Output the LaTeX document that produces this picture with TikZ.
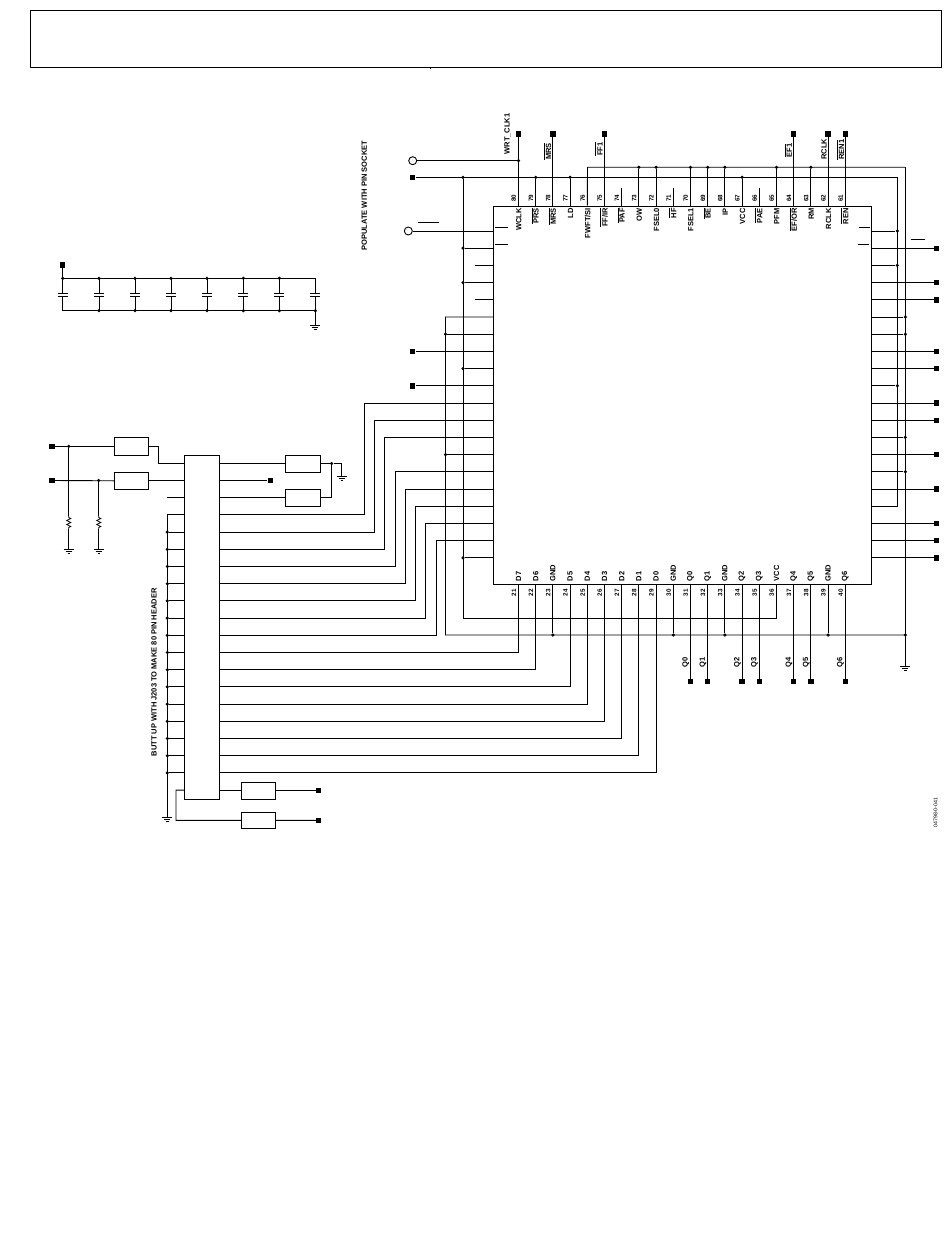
\documentclass[tikz,border=0pt]{standalone}
\usepackage{fontspec}
\setmainfont{Liberation Sans}
\usetikzlibrary{calc}
\newcommand\ovbar[1]{\setbox0=\hbox{#1}\rlap{\smash{\rule[6.6pt]{\wd0}{0.55pt}}}\box0}
\newcommand\lfont{\fontsize{7.5}{8}\selectfont\bfseries}
\newcommand\nfont{\fontsize{6.3}{7}\selectfont\bfseries}
\tikzset{
  wire/.style={line width=0.9pt,black},
  jdot/.style={circle,fill=black,inner sep=0pt,minimum size=3.5pt},
  sqpin/.style={rectangle,fill=black,inner sep=0pt,minimum size=5.4pt},
  ringpin/.style={circle,draw=black,fill=white,line width=0.9pt,inner sep=0pt,minimum size=8pt},
  partbox/.style={rectangle,draw=black,line width=0.9pt,inner sep=0pt,fill=white},
  vlab/.style={rotate=90,inner sep=0pt,font=\lfont},
  vnum/.style={rotate=90,inner sep=0pt,font=\nfont},
  gndsym/.pic={\draw[wire] (-5,0)--(5,0) (-3,2)--(3,2) (-1.2,4)--(1.2,4);},
  resis/.pic={\draw[line width=0.8pt] (0,0)--(0,1.5)--(2,2.5)--(-2,4.5)--(2,6.5)--(-2,8.5)--(2,10.5)--(0,11.5)--(0,13);},
}
\begin{document}
\begin{tikzpicture}[x=1pt,y=-1pt]
\useasboundingbox (0,0) rectangle (950,1260);
\fill[white] (0,0) rectangle (950,1260);

% title frame
\node[rectangle,draw=black,line width=1.2pt,inner sep=0pt,minimum width=911pt,minimum height=57pt,anchor=north west] (frame) at (30,10) {};
\draw[line width=0.5pt] (430,67.5) -- (430,69);

% ---------- main chip ----------
\node[partbox,minimum width=378pt,minimum height=378pt,anchor=north west] (chip) at (493,205.5) {};
\foreach \i in {1,...,20}{
  \pgfmathsetmacro\yy{231+(\i-1)*17.2}
  \coordinate (L\i) at (493,\yy);
  \coordinate (R\i) at (871,\yy);
}
\foreach \n/\s in {80/WCLK,79/\ovbar{PRS},78/\ovbar{MRS},77/LD,76/{FWFT/SI},75/{\ovbar{FF/IR}},74/\ovbar{PAF},73/OW,72/FSEL0,71/\ovbar{HF},70/FSEL1,69/\ovbar{BE},68/IP,67/VCC,66/\ovbar{PAE},65/PFM,64/{\ovbar{EF/OR}},63/RM,62/RCLK,61/\ovbar{REN}}{
  \pgfmathsetmacro\xx{518.5+17.2*(80-\n)}
  \coordinate (T\n) at (\xx,205.5);
  \node[vnum] (tnum\n) at (\xx-4.7,198) {\n};
  \node[vlab,anchor=east] (tname\n) at (\xx+0.4,208) {\s};
}
\foreach \n/\s in {21/D7,22/D6,23/GND,24/D5,25/D4,26/D3,27/D2,28/D1,29/D0,30/GND,31/Q0,32/Q1,33/GND,34/Q2,35/Q3,36/VCC,37/Q4,38/Q5,39/GND,40/Q6}{
  \pgfmathsetmacro\xx{518.5+17.2*(\n-21)}
  \coordinate (B\n) at (\xx,583.5);
  \node[vnum] (bnum\n) at (\xx-4.7,592.5) {\n};
  \node[vlab,anchor=west] (bname\n) at (\xx,581.5) {\s};
}

% ---------- header ----------
\node[partbox,minimum width=34.4pt,minimum height=344pt,anchor=north west] (hdr) at (184.3,455.3) {};
\foreach \i in {1,...,20}{
  \pgfmathsetmacro\yy{463.3+(\i-1)*17.2}
  \coordinate (Jl\i) at (184.3,\yy);
  \coordinate (Jr\i) at (218.7,\yy);
}

% ---------- guide coordinates ----------
\coordinate (TopRow) at (0,134);
\coordinate (BotRow) at (0,681.7);
\coordinate (RightCol) at (936.7,0);
\coordinate (SideCol) at (412.7,0);
\coordinate (VccX) at (463,177.3);
\coordinate (VccC) at (463,618);
\coordinate (GndX) at (445.5,317);
\coordinate (GndC) at (445.5,635);
\coordinate (VccR) at (897.3,177.3);
\coordinate (GndT) at (587.5,167.3);
\coordinate (GndR) at (905.3,167.3);
\coordinate (StubY) at (0,187.7);
\coordinate (StubX) at (475,0);

% ---------- pins, top ----------
\node[ringpin] (clkin) at (412.7,160.7) {};
\node[sqpin] (vccin) at (412.7,177.3) {};
\node[ringpin] (oein) at (408.3,231) {};
\node[jdot] (clkj) at (518.5,160.7) {};
\draw[wire] (clkin) -- (clkj);
\draw[wire] (oein) -- (L1);
\foreach \n in {80,78,75,64,62,61}{
  \node[sqpin] (tsq\n) at (T\n |- TopRow) {};
  \draw[wire] (T\n) -- (tsq\n);
}
\draw[wire] (vccin) -- (VccR) |- (R17);
\draw[wire] (T76) -- (GndT) -- (GndR);
\foreach \n in {79,77,67}{
  \node[jdot] (tvj\n) at (T\n |- VccR) {};
  \draw[wire] (T\n) -- (tvj\n);
}
\foreach \n in {73,72,70,69,68,65,63}{
  \node[jdot] (tgj\n) at (T\n |- GndR) {};
  \draw[wire] (T\n) -- (tgj\n);
}
\foreach \n in {74,71,66}{
  \coordinate (tstub\n) at (T\n |- StubY);
  \draw[wire] (T\n) -- (tstub\n);
}

% ---------- buses ----------
\node[jdot] (vccj) at (VccX) {};
\draw[wire] (vccj) -- (VccC) -| (B36);
\draw[wire] (L6) -- (GndX) -- (GndC) -- (GndR |- GndC);
\node[jdot] (gndbj) at (GndR |- GndC) {};
\coordinate (GndEnd) at (905.3,666.5);
\draw[wire] (GndR) -- (GndEnd);
\pic at (GndEnd) {gndsym};

% ---------- chip left side ----------
\foreach \i in {2,4,9,20}{
  \node[jdot] (lvj\i) at (VccX |- L\i) {};
  \draw[wire] (L\i) -- (lvj\i);
}
\foreach \i in {7,14}{
  \node[jdot] (lgj\i) at (GndX |- L\i) {};
  \draw[wire] (L\i) -- (lgj\i);
}
\foreach \i in {3,5}{
  \coordinate (lstub\i) at (StubX |- L\i);
  \draw[wire] (L\i) -- (lstub\i);
}
\foreach \i in {8,10}{
  \node[sqpin] (lsq\i) at (SideCol |- L\i) {};
  \draw[wire] (L\i) -- (lsq\i);
}

% ---------- chip right side ----------
\foreach \i in {2,4,5,8,9,11,12,14,16,18,19,20}{
  \node[sqpin] (rsq\i) at (RightCol |- R\i) {};
  \draw[wire] (R\i) -- (rsq\i);
}
\foreach \i in {1,3,10}{
  \node[jdot] (rvj\i) at (VccR |- R\i) {};
  \draw[wire] (R\i) -- (rvj\i);
}
\foreach \i in {6,7,13,15}{
  \node[jdot] (rgj\i) at (GndR |- R\i) {};
  \draw[wire] (R\i) -- (rgj\i);
}

% ---------- chip bottom ----------
\foreach \n in {23,30,33,39}{
  \node[jdot] (bgj\n) at (B\n |- GndC) {};
  \draw[wire] (B\n) -- (bgj\n);
}
\foreach \n/\s in {31/Q0,32/Q1,34/Q2,35/Q3,37/Q4,38/Q5,40/Q6}{
  \node[sqpin] (bsq\n) at (B\n |- BotRow) {};
  \draw[wire] (B\n) -- (bsq\n);
  \node[vnum,font=\lfont] (blab\n) at ($(B\n)+(-4.7,78.5)$) {\s};
}

% ---------- header to chip ----------
\foreach \a/\b/\x in {4/11/364.5,5/12/374,6/13/384.5,7/15/395,8/16/405.5,9/17/415.5,10/18/425.5,11/19/436}{
  \coordinate (Bend\a) at (\x,0);
  \draw[wire] (Jr\a) -| (Bend\a |- L\b) -- (L\b);
}
\foreach \a/\b in {12/21,13/22,14/24,15/25,16/26,17/27,18/28,19/29}{
  \draw[wire] (Jr\a) -| (B\b);
}

% ---------- header left ----------
\node[sqpin] (in1) at (52,446.3) {};
\node[sqpin] (in2) at (52,480.5) {};
\node[partbox,minimum width=34.4pt,minimum height=18pt] (ra) at (131.5,446.3) {};
\node[partbox,minimum width=34.4pt,minimum height=17pt] (rb) at (131.5,480.8) {};
\node[jdot] (ja) at (68.7,446.3) {};
\node[jdot] (jb) at (98.7,480.5) {};
\draw[wire] (in1) -- (ra.west);
\draw[wire] (in2) -- (rb.west);
\coordinate (kink) at (158.3,446.3);
\draw[wire] (ra.east) -- (kink) |- (Jl1);
\draw[wire] (rb.east |- Jl2) -- (Jl2);
\coordinate (ga) at (68.7,549);
\coordinate (gb) at (98.7,549);
\coordinate (resa) at (68.7,516);
\coordinate (resb) at (98.7,516);
\draw[wire] (ja) -- (resa);
\draw[wire] (jb) -- (resb);
\pic at (resa) {resis};
\pic at (resb) {resis};
\coordinate (resae) at (68.7,529);
\coordinate (resbe) at (98.7,529);
\draw[wire] (resae) -- (ga);
\draw[wire] (resbe) -- (gb);
\pic at (ga) {gndsym};
\pic at (gb) {gndsym};
\coordinate (lcol) at (167.3,514.9);
\coordinate (lgnd) at (167.3,817.5);
\draw[wire] (Jl4) -- (lcol) -- (lgnd);
\pic at (lgnd) {gndsym};
\draw[wire] (Jl3) -- (lcol |- Jl3);
\foreach \i in {5,...,19}{
  \node[jdot] (hj\i) at (lcol |- Jl\i) {};
  \draw[wire] (Jl\i) -- (hj\i);
}

% ---------- header right ----------
\node[partbox,minimum width=35.4pt,minimum height=17pt] (rc) at (303,463.8) {};
\node[partbox,minimum width=35.4pt,minimum height=17pt] (rd) at (303,497.8) {};
\node[sqpin] (mid) at (270.3,480.5) {};
\node[jdot] (je) at (331.7,463.5) {};
\coordinate (gcorner) at (341.7,463.5);
\coordinate (gtop) at (341.7,476.7);
\draw[wire] (Jr1) -- (rc.west |- Jr1);
\draw[wire] (Jr3) -- (rd.west |- Jr3);
\draw[wire] (Jr2) -- (mid);
\draw[wire] (rc.east |- je) -- (je) -- (gcorner) -- (gtop);
\draw[wire] (rd.east |- Jr3) -| (je);
\pic at (gtop) {gndsym};
\node[partbox,minimum width=34.4pt,minimum height=17pt] (re) at (258.5,790.8) {};
\node[partbox,minimum width=34.4pt,minimum height=16pt] (rf) at (258.5,820.3) {};
\node[sqpin] (oa) at (318.7,790.3) {};
\node[sqpin] (ob) at (318.7,820.4) {};
\draw[wire] (Jr20) -- (re.west |- Jr20);
\draw[wire] (re.east |- oa) -- (oa);
\draw[wire] (rf) -- (ob);
\coordinate (lo) at (176,790.1);
\draw[wire] (Jl20) -- (lo) |- (rf.west);

% ---------- capacitor row ----------
\node[sqpin] (capin) at (62.7,265) {};
\coordinate (capTL) at (62.7,278.3);
\coordinate (capBL) at (62.7,310.7);
\coordinate (capTR) at (315.3,278.3);
\coordinate (capBR) at (315.3,310.7);
\coordinate (capG) at (315.3,325.7);
\draw[wire] (capin) -- (capTL) -- (capTR);
\draw[wire] (capBL) -- (capBR) -- (capG);
\pic at (capG) {gndsym};
\foreach \x in {62.7,99,135,171,207,243.3,279.3,315.3}{
  \draw[wire] (\x,278.3) -- (\x,293.3) (\x-5,293.3) -- (\x+5,293.3);
  \draw[wire] (\x-5,296.3) -- (\x+5,296.3) (\x,296.3) -- (\x,310.7);
}
\foreach \x in {62.7,99,135,171,207,243.3,279.3}{ \fill (\x,278.3) circle (1.75pt); }
\foreach \x in {99,135,171,207,243.3,279.3,315.3}{ \fill (\x,310.7) circle (1.75pt); }

% ---------- bars left over from white labels ----------
\draw[wire] (495,227.3) -- (508.3,227.3);
\draw[wire] (495,244.3) -- (508.3,244.3);
\draw[wire] (859.3,227.3) -- (870,227.3);
\draw[wire] (858.3,244.3) -- (869,244.3);
\draw[wire] (910.7,239.3) -- (925,239.3);
\draw[wire] (417.7,222.3) -- (439.3,222.3);

% ---------- free text ----------
\node[vlab,anchor=west] (t1) at (507.5,154.5) {WRT\_CLK1};
\node[vlab,anchor=west] (t2) at (548.5,160) {\ovbar{MRS}};
\node[vlab,anchor=west] (t3) at (600,156) {\ovbar{FF1}};
\node[vlab,anchor=west] (t4) at (789.3,157.5) {\ovbar{EF1}};
\node[vlab,anchor=west] (t5) at (824,160) {RCLK};
\node[vlab,anchor=west] (t6) at (841.5,160) {\ovbar{REN1}};
\node[vlab] (t7) at (364.3,195.7) {POPULATE WITH PIN SOCKET};
\node[vlab] (t8) at (154,672.3) {BUTT UP WITH J203 TO MAKE 80 PIN HEADER};
\node[rotate=90,inner sep=0pt,font=\fontsize{5.3}{6}\selectfont] (t9) at (935.5,812.5) {04798-0-041};
\end{tikzpicture}
\end{document}
